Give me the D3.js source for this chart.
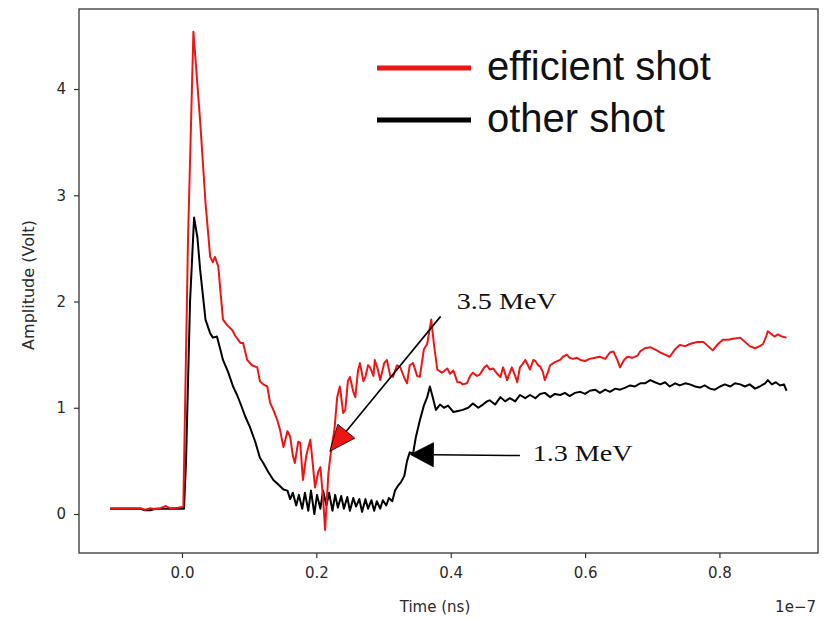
<!DOCTYPE html>
<html><head><meta charset="utf-8">
<script src="https://cdn.jsdelivr.net/npm/d3@7"></script>
<style>html,body{margin:0;padding:0;background:#fff;}</style>
</head><body>
<svg id="chart" width="830" height="618"></svg>
<script>
// ---- data (time in units of 1e-7 s, amplitude in Volt) ----
const redT = [-0.107,-0.077,-0.062,-0.055,-0.047,-0.040,-0.032,-0.024,-0.018,-0.006,0.000,0.002,0.009,0.017,0.027,0.035,0.042,0.046,0.049,0.054,0.061,0.067,0.075,0.079,0.087,0.091,0.097,0.104,0.112,0.116,0.121,0.127,0.131,0.136,0.142,0.146,0.151,0.157,0.161,0.165,0.168,0.173,0.176,0.180,0.185,0.191,0.195,0.198,0.203,0.206,0.210,0.213,0.218,0.222,0.227,0.231,0.235,0.240,0.243,0.247,0.250,0.255,0.258,0.262,0.265,0.270,0.273,0.277,0.280,0.285,0.287,0.292,0.295,0.301,0.305,0.310,0.314,0.320,0.325,0.331,0.335,0.339,0.344,0.350,0.354,0.360,0.365,0.371,0.375,0.380,0.387,0.395,0.399,0.404,0.410,0.414,0.418,0.424,0.429,0.433,0.439,0.443,0.450,0.454,0.458,0.463,0.469,0.474,0.478,0.484,0.488,0.491,0.496,0.499,0.503,0.508,0.511,0.515,0.518,0.523,0.526,0.530,0.533,0.537,0.540,0.545,0.548,0.555,0.563,0.567,0.573,0.577,0.582,0.588,0.593,0.600,0.607,0.615,0.622,0.630,0.637,0.642,0.648,0.652,0.658,0.663,0.670,0.678,0.682,0.689,0.697,0.704,0.712,0.719,0.726,0.734,0.741,0.749,0.756,0.761,0.768,0.776,0.783,0.790,0.798,0.805,0.813,0.820,0.831,0.838,0.845,0.853,0.860,0.865,0.870,0.872,0.878,0.882,0.887,0.893,0.900];
const redV = [0.055,0.055,0.055,0.04,0.055,0.045,0.055,0.075,0.055,0.06,0.065,0.07,2.6,4.54,3.7,2.93,2.42,2.37,2.42,2.33,1.83,1.78,1.73,1.68,1.61,1.61,1.45,1.40,1.38,1.25,1.22,1.20,1.05,0.98,0.88,0.79,0.63,0.78,0.73,0.55,0.48,0.68,0.67,0.32,0.55,0.70,0.45,0.25,0.40,0.44,0.15,-0.15,0.39,0.60,0.80,1.10,1.20,0.95,0.98,1.25,1.29,1.15,1.10,1.35,1.42,1.25,1.29,1.40,1.38,1.30,1.45,1.35,1.26,1.42,1.45,1.30,1.29,1.40,1.38,1.28,1.23,1.40,1.42,1.30,1.29,1.55,1.60,1.83,1.60,1.36,1.33,1.37,1.32,1.35,1.24,1.24,1.22,1.23,1.30,1.33,1.30,1.31,1.38,1.40,1.36,1.37,1.32,1.29,1.38,1.26,1.33,1.38,1.30,1.24,1.38,1.42,1.45,1.40,1.36,1.45,1.44,1.40,1.39,1.34,1.26,1.34,1.40,1.43,1.45,1.48,1.50,1.47,1.46,1.47,1.45,1.44,1.46,1.47,1.48,1.46,1.52,1.53,1.45,1.38,1.45,1.48,1.47,1.49,1.53,1.56,1.57,1.55,1.52,1.50,1.48,1.55,1.59,1.58,1.60,1.61,1.62,1.62,1.58,1.54,1.60,1.64,1.64,1.65,1.66,1.62,1.58,1.56,1.58,1.60,1.68,1.72,1.69,1.67,1.69,1.67,1.66];

const blackT = [-0.107,-0.062,-0.055,-0.047,-0.040,0.000,0.003,0.006,0.012,0.018,0.023,0.027,0.035,0.042,0.046,0.052,0.057,0.061,0.069,0.076,0.082,0.087,0.094,0.101,0.109,0.116,0.121,0.128,0.136,0.143,0.151,0.157,0.161,0.165,0.170,0.174,0.179,0.183,0.188,0.192,0.197,0.201,0.206,0.210,0.215,0.219,0.224,0.228,0.232,0.237,0.241,0.246,0.250,0.255,0.259,0.264,0.268,0.273,0.277,0.282,0.286,0.290,0.295,0.299,0.304,0.308,0.313,0.317,0.322,0.326,0.331,0.335,0.339,0.344,0.348,0.354,0.360,0.365,0.369,0.374,0.378,0.384,0.390,0.396,0.404,0.411,0.418,0.426,0.433,0.441,0.448,0.454,0.458,0.466,0.474,0.481,0.488,0.496,0.503,0.511,0.518,0.526,0.533,0.540,0.548,0.555,0.563,0.570,0.577,0.585,0.593,0.600,0.607,0.615,0.622,0.630,0.637,0.645,0.652,0.660,0.667,0.674,0.682,0.689,0.697,0.704,0.712,0.719,0.726,0.734,0.741,0.749,0.756,0.764,0.771,0.778,0.786,0.793,0.801,0.808,0.816,0.823,0.831,0.838,0.845,0.853,0.860,0.868,0.872,0.878,0.884,0.890,0.896,0.900];
const blackV = [0.05,0.05,0.035,0.035,0.05,0.05,0.05,0.5,2.0,2.79,2.6,2.30,1.83,1.70,1.66,1.67,1.55,1.45,1.33,1.20,1.12,1.04,0.92,0.82,0.68,0.53,0.48,0.40,0.32,0.28,0.23,0.22,0.14,0.20,0.08,0.18,0.05,0.20,0.03,0.22,0.00,0.18,0.05,0.22,0.08,0.20,0.03,0.18,0.06,0.17,0.05,0.16,0.03,0.15,0.07,0.14,0.02,0.14,0.05,0.13,0.03,0.12,0.05,0.13,0.08,0.15,0.12,0.22,0.27,0.30,0.36,0.50,0.58,0.57,0.72,0.88,1.02,1.10,1.20,1.08,0.98,1.03,1.00,1.02,0.96,0.97,0.98,1.00,1.04,1.00,1.03,1.06,1.07,1.03,1.10,1.06,1.09,1.06,1.12,1.09,1.12,1.09,1.13,1.14,1.10,1.13,1.12,1.14,1.11,1.14,1.15,1.13,1.16,1.17,1.14,1.17,1.15,1.18,1.17,1.19,1.21,1.20,1.23,1.23,1.26,1.24,1.22,1.24,1.20,1.23,1.21,1.23,1.22,1.20,1.19,1.21,1.18,1.17,1.20,1.22,1.20,1.23,1.22,1.20,1.22,1.18,1.20,1.23,1.26,1.22,1.24,1.21,1.22,1.16];

const xTicks = [0.0, 0.2, 0.4, 0.6, 0.8];
const yTicks = [0, 1, 2, 3, 4];
const seriesNames = ["efficient shot", "other shot"];
const seriesColors = ["#ee1515", "#000000"];
// annotations: label, arrow start (data), arrow tip (data)
const annoLabels = ["3.5 MeV", "1.3 MeV"];
const annoTip = [[0.220, 0.59], [0.340, 0.56]];
const annoTail = [[0.385, 1.86], [0.503, 0.55]];
const annoText = [[0.409, 1.93], [0.522, 0.50]];

// ---- layout ----
const svg = d3.select("#chart");
const L = 79, R = 818, T = 9, B = 553;
const x = d3.scaleLinear().domain([-0.1533, 0.9467]).range([L, R]);
const y = d3.scaleLinear().domain([-0.367, 4.753]).range([B, T]);

svg.append("rect").attr("width", 830).attr("height", 618).attr("fill", "#fff");

const clipId = "plotclip";
svg.append("clipPath").attr("id", clipId).append("rect")
  .attr("x", L).attr("y", T).attr("width", R - L).attr("height", B - T);

const line = d3.line().x(d => x(d[0])).y(d => y(d[1]));
const blackData = blackT.map((t, i) => [t, blackV[i]]);
const redData = redT.map((t, i) => [t, redV[i]]);

const g = svg.append("g").attr("clip-path", `url(#${clipId})`);
g.append("path").datum(blackData).attr("d", line).attr("fill", "none")
  .attr("stroke", seriesColors[1]).attr("stroke-width", 2).attr("stroke-linejoin", "round");
g.append("path").datum(redData).attr("d", line).attr("fill", "none")
  .attr("stroke", seriesColors[0]).attr("stroke-width", 2).attr("stroke-linejoin", "round");

// axes
const tickFont = "'DejaVu Sans', sans-serif";
const xAxis = d3.axisBottom(x).tickValues(xTicks).tickFormat(d3.format(".1f")).tickSizeOuter(0).tickSize(5).tickPadding(9);
const yAxis = d3.axisLeft(y).tickValues(yTicks).tickFormat(d3.format("d")).tickSizeOuter(0).tickSize(5).tickPadding(8);
const gx = svg.append("g").attr("transform", `translate(0,${B})`).call(xAxis);
const gy = svg.append("g").attr("transform", `translate(${L},0)`).call(yAxis);
[gx, gy].forEach(a => {
  a.select(".domain").remove();
  a.selectAll("line").attr("stroke", "#333").attr("stroke-width", 1.2);
  a.selectAll("text").attr("fill", "#2a2a2a").style("font-family", tickFont).style("font-size", "15px");
});

// frame
svg.append("rect").attr("x", L).attr("y", T).attr("width", R - L).attr("height", B - T)
  .attr("fill", "none").attr("stroke", "#333").attr("stroke-width", 1.3);

// axis labels
svg.append("text").attr("x", 435).attr("y", 612).attr("text-anchor", "middle")
  .style("font-family", tickFont).style("font-size", "15px").attr("fill", "#2a2a2a").text("Time (ns)");
svg.append("text").attr("x", 816).attr("y", 612).attr("text-anchor", "end")
  .style("font-family", tickFont).style("font-size", "15px").attr("fill", "#2a2a2a").text("1e\u22127");
svg.append("text").attr("transform", "translate(34,285) rotate(-90)").attr("text-anchor", "middle")
  .style("font-family", tickFont).style("font-size", "16px").attr("fill", "#2a2a2a").text("Amplitude (Volt)");

// legend
const legY = [68, 120];
seriesNames.forEach((name, i) => {
  svg.append("line").attr("x1", 377).attr("x2", 471).attr("y1", legY[i]).attr("y2", legY[i])
    .attr("stroke", seriesColors[i]).attr("stroke-width", 5);
  svg.append("text").attr("x", 487).attr("y", legY[i] + 12)
    .style("font-family", "'Liberation Sans', Arial, sans-serif").style("font-size", "40px")
    .attr("fill", "#111").text(name);
});

// annotations
const headFill = ["#ee1515", "#000"];
const headLen = [26, 23], headHalf = [11, 12];
annoLabels.forEach((lab, i) => {
  const tx = x(annoTip[i][0]), ty = y(annoTip[i][1]);
  const sx = x(annoTail[i][0]), sy = y(annoTail[i][1]);
  const dx = sx - tx, dy = sy - ty, len = Math.hypot(dx, dy);
  const ux = dx / len, uy = dy / len;
  const bx = tx + ux * headLen[i], by = ty + uy * headLen[i];
  svg.append("line").attr("x1", sx).attr("y1", sy).attr("x2", bx).attr("y2", by)
    .attr("stroke", "#000").attr("stroke-width", 1.6);
  const px = -uy, py = ux;
  svg.append("path")
    .attr("d", `M${tx},${ty}L${bx + px * headHalf[i]},${by + py * headHalf[i]}L${bx - px * headHalf[i]},${by - py * headHalf[i]}Z`)
    .attr("fill", headFill[i]).attr("stroke", "#000").attr("stroke-width", 0.8);
  svg.append("text").attr("x", x(annoText[i][0])).attr("y", y(annoText[i][1]))
    .style("font-family", "'Liberation Serif', 'Times New Roman', serif").style("font-size", "23px")
    .attr("textLength", 100).attr("lengthAdjust", "spacingAndGlyphs")
    .attr("fill", "#111").text(lab);
});
</script>
</body></html>
